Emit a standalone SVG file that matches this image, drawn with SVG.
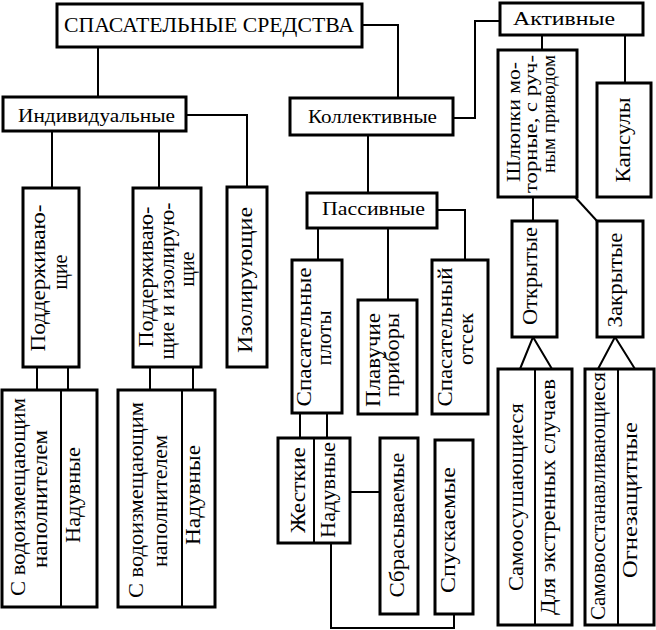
<svg xmlns="http://www.w3.org/2000/svg" width="656" height="630" viewBox="0 0 656 630" font-family="'Liberation Serif', 'Times New Roman', serif">
<style>
.box{fill:#fff;stroke:#000;stroke-width:3}
.div{stroke:#000;stroke-width:2;fill:none}
.con{stroke:#000;stroke-width:2;fill:none}
.t{font-family:'Liberation Serif','Times New Roman',serif;fill:#000;font-size:20px}
.v{text-anchor:middle}
.h{font-size:19px}
.s{font-size:18px}
.big{font-size:21px}
</style>
<rect width="656" height="630" fill="#fff"/>
<g id="connectors">
<path class="con" d="M98 47V97"/>
<path class="con" d="M362 25H398V98"/>
<path class="con" d="M186 115H247V187"/>
<path class="con" d="M52 131V188"/>
<path class="con" d="M159 131V188"/>
<path class="con" d="M453 118H475V21H500"/>
<path class="con" d="M368 135V193"/>
<path class="con" d="M542 35V50"/>
<path class="con" d="M625 35V83"/>
<path class="con" d="M533 197V221"/>
<path class="con" d="M575 197L597 221"/>
<path class="con" d="M520 369L533 337L552 369"/>
<path class="con" d="M598 369L615 337L635 369"/>
<path class="con" d="M318 228V260"/>
<path class="con" d="M388 228V300"/>
<path class="con" d="M437 210H465V260"/>
<path class="con" d="M37 367V390M68 367V390"/>
<path class="con" d="M150 367V390M193 367V390"/>
<path class="con" d="M300 413V438M327 413V438"/>
<path class="con" d="M350 492H380"/>
<path class="con" d="M331 543V628H454V614"/>
</g>
<g id="root">
<rect class="box" x="57" y="4" width="305" height="43"/>
<text class="t big" x="64" y="32" textLength="290" lengthAdjust="spacingAndGlyphs">СПАСАТЕЛЬНЫЕ СРЕДСТВА</text>
</g>
<g id="individual">
<rect class="box" x="3" y="97" width="183" height="34"/>
<text class="t h" x="18" y="122" textLength="157" lengthAdjust="spacingAndGlyphs">Индивидуальные</text>
</g>
<g id="collective">
<rect class="box" x="290" y="98" width="163" height="37"/>
<text class="t h" x="308" y="123" textLength="129" lengthAdjust="spacingAndGlyphs">Коллективные</text>
</g>
<g id="active">
<rect class="box" x="500" y="3" width="143" height="32"/>
<text class="t h" x="513" y="25" textLength="102" lengthAdjust="spacingAndGlyphs">Активные</text>
</g>
<g id="passive">
<rect class="box" x="307" y="193" width="130" height="35"/>
<text class="t h" x="322" y="215" textLength="103" lengthAdjust="spacingAndGlyphs">Пассивные</text>
</g>
<g id="boats">
<rect class="box" x="498" y="50" width="79" height="147"/>
<text class="t v s" transform="translate(520,122) rotate(-90)" textLength="120" lengthAdjust="spacingAndGlyphs">Шлюпки мо-</text>
<text class="t v s" transform="translate(537,124) rotate(-90)" textLength="138" lengthAdjust="spacingAndGlyphs">торные, с руч-</text>
<text class="t v s" transform="translate(555,114) rotate(-90)" textLength="118" lengthAdjust="spacingAndGlyphs">ным приводом</text>
</g>
<g id="capsules">
<rect class="box" x="597" y="83" width="54" height="114"/>
<text class="t v" transform="translate(630,140) rotate(-90)" textLength="85" lengthAdjust="spacingAndGlyphs">Капсулы</text>
</g>
<g id="supporting">
<rect class="box" x="23" y="188" width="56" height="179"/>
<text class="t v" transform="translate(45,278) rotate(-90)" textLength="147" lengthAdjust="spacingAndGlyphs">Поддерживаю-</text>
<text class="t v" transform="translate(67,272) rotate(-90)">щие</text>
</g>
<g id="supp-insul">
<rect class="box" x="133" y="188" width="68" height="179"/>
<text class="t v" transform="translate(153,277) rotate(-90)" textLength="141" lengthAdjust="spacingAndGlyphs">Поддерживаю-</text>
<text class="t v" transform="translate(174,281) rotate(-90)" textLength="157" lengthAdjust="spacingAndGlyphs">щие и изолирую-</text>
<text class="t v" transform="translate(194,269) rotate(-90)">щие</text>
</g>
<g id="insulating">
<rect class="box" x="227" y="187" width="40" height="180"/>
<text class="t v" transform="translate(252,280) rotate(-90)" textLength="146" lengthAdjust="spacingAndGlyphs">Изолирующие</text>
</g>
<g id="ind-sub1">
<rect class="box" x="2" y="390" width="95" height="217"/>
<line class="div" x1="61" y1="390" x2="61" y2="607"/>
<text class="t v" transform="translate(25,497) rotate(-90)" textLength="198" lengthAdjust="spacingAndGlyphs">С водоизмещающим</text>
<text class="t v" transform="translate(47,499) rotate(-90)" textLength="138" lengthAdjust="spacingAndGlyphs">наполнителем</text>
<text class="t v" transform="translate(80,495) rotate(-90)" textLength="96" lengthAdjust="spacingAndGlyphs">Надувные</text>
</g>
<g id="ind-sub2">
<rect class="box" x="118" y="390" width="97" height="217"/>
<line class="div" x1="182" y1="390" x2="182" y2="607"/>
<text class="t v" transform="translate(143,500) rotate(-90)" textLength="196" lengthAdjust="spacingAndGlyphs">С водоизмещающим</text>
<text class="t v" transform="translate(167,501) rotate(-90)" textLength="132" lengthAdjust="spacingAndGlyphs">наполнителем</text>
<text class="t v" transform="translate(200,495) rotate(-90)" textLength="100" lengthAdjust="spacingAndGlyphs">Надувные</text>
</g>
<g id="rafts">
<rect class="box" x="292" y="260" width="50" height="153"/>
<text class="t v" transform="translate(311,337) rotate(-90)" textLength="139" lengthAdjust="spacingAndGlyphs">Спасательные</text>
<text class="t v" transform="translate(331,338) rotate(-90)" textLength="55" lengthAdjust="spacingAndGlyphs">плоты</text>
</g>
<g id="floating">
<rect class="box" x="358" y="300" width="59" height="114"/>
<text class="t v" transform="translate(380,360) rotate(-90)" textLength="94" lengthAdjust="spacingAndGlyphs">Плавучие</text>
<text class="t v" transform="translate(399,355) rotate(-90)" textLength="84" lengthAdjust="spacingAndGlyphs">приборы</text>
</g>
<g id="compartment">
<rect class="box" x="432" y="260" width="56" height="154"/>
<text class="t v" transform="translate(452,337) rotate(-90)" textLength="139" lengthAdjust="spacingAndGlyphs">Спасательный</text>
<text class="t v" transform="translate(473,339) rotate(-90)" textLength="52" lengthAdjust="spacingAndGlyphs">отсек</text>
</g>
<g id="raft-types">
<rect class="box" x="278" y="438" width="72" height="105"/>
<line class="div" x1="314" y1="438" x2="314" y2="543"/>
<text class="t v" transform="translate(305,490) rotate(-90)" textLength="86" lengthAdjust="spacingAndGlyphs">Жесткие</text>
<text class="t v" transform="translate(335,490) rotate(-90)" textLength="96" lengthAdjust="spacingAndGlyphs">Надувные</text>
</g>
<g id="dropped">
<rect class="box" x="380" y="438" width="38" height="176"/>
<text class="t v" transform="translate(404,525) rotate(-90)" textLength="145" lengthAdjust="spacingAndGlyphs">Сбрасываемые</text>
</g>
<g id="lowered">
<rect class="box" x="435" y="440" width="38" height="174"/>
<text class="t v" transform="translate(455,530) rotate(-90)" textLength="126" lengthAdjust="spacingAndGlyphs">Спускаемые</text>
</g>
<g id="open">
<rect class="box" x="512" y="221" width="45" height="116"/>
<text class="t v" transform="translate(537,276) rotate(-90)" textLength="98" lengthAdjust="spacingAndGlyphs">Открытые</text>
</g>
<g id="closed">
<rect class="box" x="597" y="221" width="46" height="116"/>
<text class="t v" transform="translate(622,280) rotate(-90)" textLength="95" lengthAdjust="spacingAndGlyphs">Закрытые</text>
</g>
<g id="open-types">
<rect class="box" x="498" y="369" width="74" height="256"/>
<line class="div" x1="535" y1="369" x2="535" y2="625"/>
<text class="t v" transform="translate(523,497) rotate(-90)" textLength="188" lengthAdjust="spacingAndGlyphs">Самоосушающиеся</text>
<text class="t v" transform="translate(555,497) rotate(-90)" textLength="236" lengthAdjust="spacingAndGlyphs">Для экстренных случаев</text>
</g>
<g id="closed-types">
<rect class="box" x="585" y="369" width="69" height="256"/>
<line class="div" x1="618" y1="369" x2="618" y2="625"/>
<text class="t v" transform="translate(605,496) rotate(-90)" textLength="248" lengthAdjust="spacingAndGlyphs">Самовосстанавливающиеся</text>
<text class="t v" transform="translate(637,500) rotate(-90)" textLength="156" lengthAdjust="spacingAndGlyphs">Огнезащитные</text>
</g>
</svg>
